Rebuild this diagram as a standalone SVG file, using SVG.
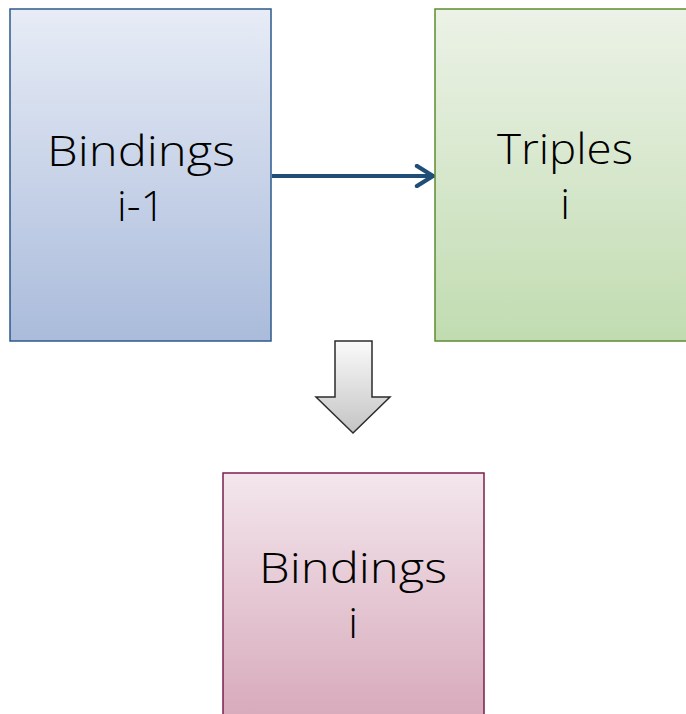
<svg xmlns="http://www.w3.org/2000/svg" width="686" height="714" viewBox="0 0 686 714">
  <defs>
    <linearGradient id="gBlue" x1="0" y1="0" x2="0" y2="1">
      <stop offset="0" stop-color="#E7ECF6"/>
      <stop offset="1" stop-color="#AABBDB"/>
    </linearGradient>
    <linearGradient id="gGreen" x1="0" y1="0" x2="0" y2="1">
      <stop offset="0" stop-color="#ECF2E7"/>
      <stop offset="1" stop-color="#C1DCB1"/>
    </linearGradient>
    <linearGradient id="gPink" x1="0" y1="0" x2="0" y2="1">
      <stop offset="0" stop-color="#F3E6EC"/>
      <stop offset="1" stop-color="#D6A6B9"/>
    </linearGradient>
    <linearGradient id="gGray" x1="0" y1="0" x2="0" y2="1">
      <stop offset="0" stop-color="#FAFAFA"/>
      <stop offset="1" stop-color="#C4C4C4"/>
    </linearGradient>
    <marker id="chevron" viewBox="0 0 12 12" refX="10" refY="6" markerWidth="6" markerHeight="6" markerUnits="strokeWidth" orient="auto">
      <path d="M2,1 L10,6 L2,11" fill="none" stroke="#1F4E79" stroke-width="2.2" stroke-linecap="round" stroke-linejoin="round"/>
    </marker>
    <style>
      .lbl { font-family: "Open Sans", "Liberation Sans", sans-serif; font-weight: 300; font-size: 43px; fill: #000; text-anchor: middle; }
    </style>
  </defs>

  <g id="connectors">
    <line x1="272" y1="176" x2="433" y2="176" stroke="#1F4E79" stroke-width="4" marker-end="url(#chevron)"/>
    <path d="M335,341 L372,341 L372,397 L390,397 L353,433 L316,397 L335,397 Z" fill="url(#gGray)" stroke="#2B2B2B" stroke-width="1.5" stroke-linejoin="miter"/>
  </g>

  <g id="bindings-prev">
    <rect x="10" y="9" width="261" height="332" fill="url(#gBlue)" stroke="#2C5A8A" stroke-width="1.5"/>
    <text class="lbl" x="141" y="166" textLength="188" lengthAdjust="spacingAndGlyphs">Bindings</text>
    <text class="lbl" x="141" y="221">i-1</text>
  </g>

  <g id="triples">
    <rect x="435" y="9" width="261" height="332" fill="url(#gGreen)" stroke="#5E8C2F" stroke-width="1.5"/>
    <text class="lbl" x="565" y="164" textLength="136" lengthAdjust="spacingAndGlyphs">Triples</text>
    <text class="lbl" x="565" y="219">i</text>
  </g>

  <g id="bindings">
    <rect x="223" y="473" width="261" height="260" fill="url(#gPink)" stroke="#7A1F4F" stroke-width="1.5"/>
    <text class="lbl" x="353" y="583" textLength="188" lengthAdjust="spacingAndGlyphs">Bindings</text>
    <text class="lbl" x="353" y="638">i</text>
  </g>
</svg>
